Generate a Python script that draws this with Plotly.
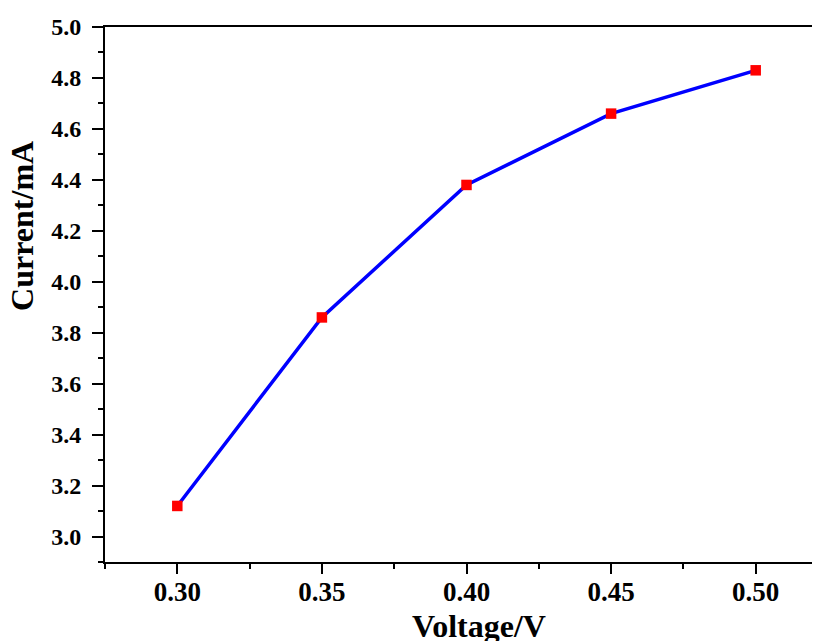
import plotly.graph_objects as go

voltage = [0.30, 0.35, 0.40, 0.45, 0.50]
current = [3.12, 3.86, 4.38, 4.66, 4.83]
x_ticks = [0.30, 0.35, 0.40, 0.45, 0.50]
x_tick_labels = ["0.30", "0.35", "0.40", "0.45", "0.50"]
y_ticks = [3.0, 3.2, 3.4, 3.6, 3.8, 4.0, 4.2, 4.4, 4.6, 4.8, 5.0]
y_tick_labels = ["3.0", "3.2", "3.4", "3.6", "3.8", "4.0", "4.2", "4.4", "4.6", "4.8", "5.0"]

FONT = "Liberation Serif, Times New Roman, serif"

fig = go.Figure()
fig.add_trace(go.Scatter(
    x=voltage, y=current, mode="lines+markers",
    line=dict(color="#0000FF", width=3.5),
    marker=dict(symbol="square", size=10.5, color="#FF0000", line=dict(width=0)),
    showlegend=False,
))

fig.update_layout(
    width=820, height=641,
    margin=dict(l=97, r=0, t=19, b=87, autoexpand=False),
    paper_bgcolor="white", plot_bgcolor="white",
    font=dict(family=FONT, color="black"),
)
fig.update_xaxes(
    range=[0.275, 0.525], tickvals=x_ticks, ticktext=x_tick_labels,
    automargin=False,
    showgrid=False, zeroline=False,
    showline=True, linecolor="black", linewidth=2, mirror=True,
    ticks="outside", ticklen=10, tickwidth=2, tickcolor="black",
    ticklabelstandoff=-5,
    tickfont=dict(family=FONT, size=27, color="black", weight="bold"),
    minor=dict(dtick=0.025, tick0=0.275, ticks="outside", ticklen=5, tickwidth=2, tickcolor="black"),
)
fig.update_yaxes(
    range=[2.9, 5.0], tickvals=y_ticks, ticktext=y_tick_labels,
    automargin=False,
    showgrid=False, zeroline=False,
    showline=True, linecolor="black", linewidth=2, mirror=False,
    ticks="outside", ticklen=11, tickwidth=2, tickcolor="black",
    ticklabelstandoff=6,
    tickfont=dict(family=FONT, size=24, color="black", weight="bold"),
    minor=dict(dtick=0.1, tick0=2.9, ticks="outside", ticklen=5, tickwidth=2, tickcolor="black"),
)
fig.add_annotation(
    text="Voltage/V", xref="paper", yref="paper", x=0.5166, y=-0.119,
    xanchor="center", yanchor="middle", showarrow=False,
    font=dict(family=FONT, size=32, color="black", weight="bold"),
)
fig.add_annotation(
    text="Current/mA", xref="paper", yref="paper", x=-0.115, y=0.628,
    xanchor="center", yanchor="middle", showarrow=False, textangle=-90,
    font=dict(family=FONT, size=32, color="black", weight="bold"),
)
fig.write_html(
    "out.html",
    post_script="document.documentElement.style.overflow='hidden';document.body.style.overflow='hidden';",
)
